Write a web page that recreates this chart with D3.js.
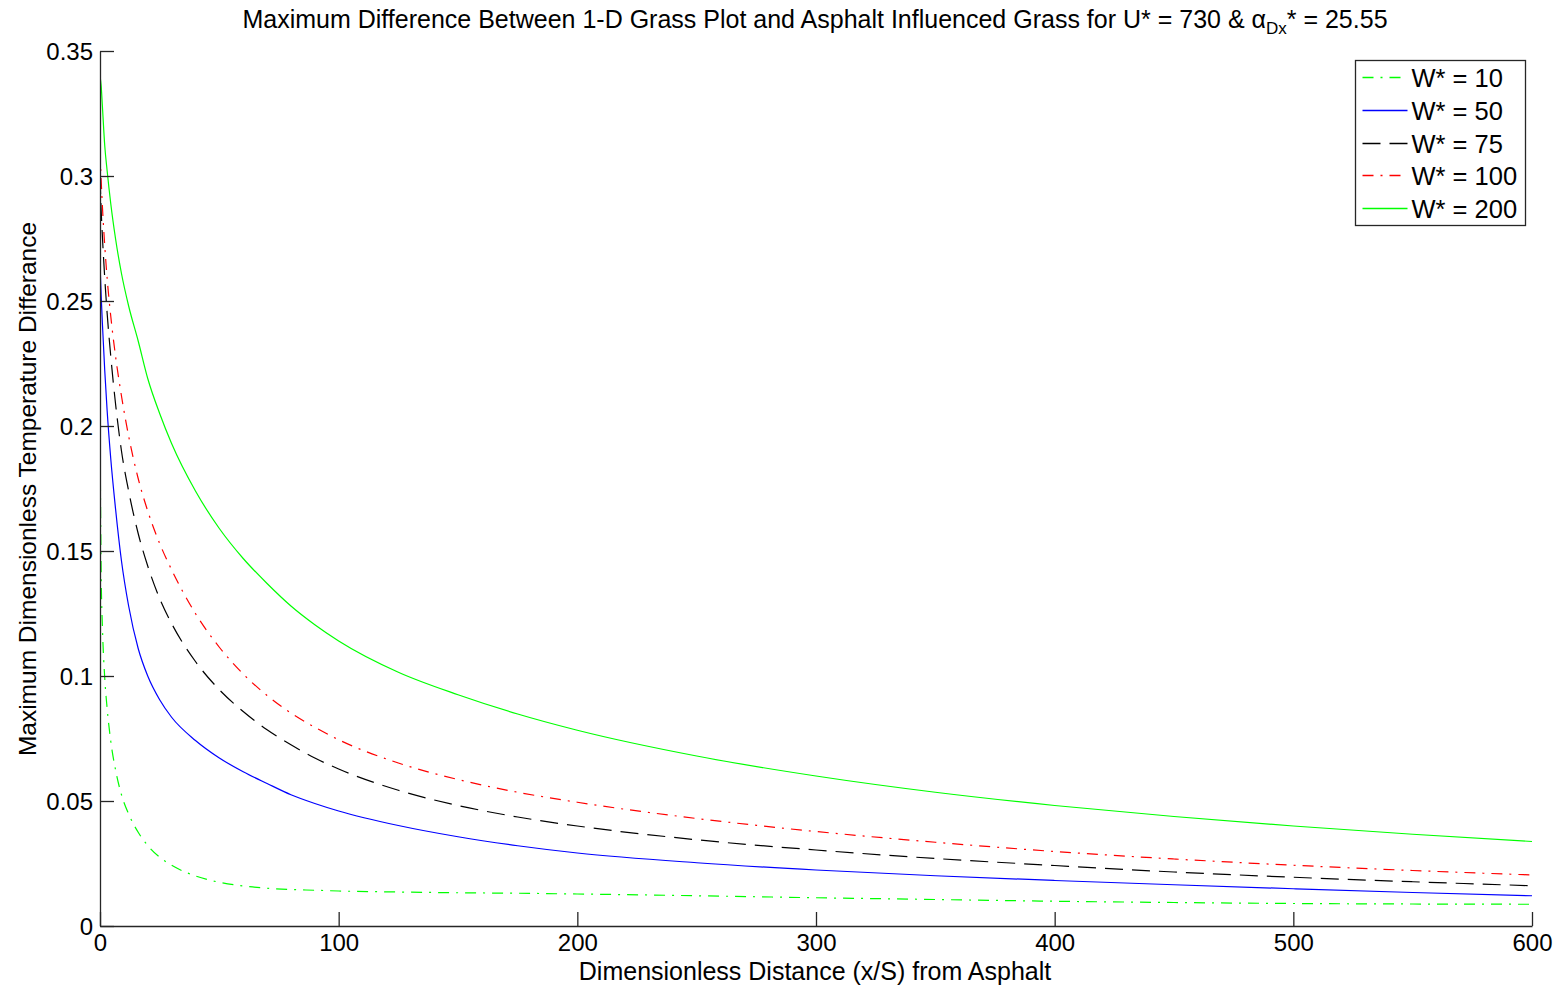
<!DOCTYPE html>
<html>
<head>
<meta charset="utf-8">
<script src="https://d3js.org/d3.v7.min.js"></script>
<style>
  body { margin: 0; background: #fff; }
  text { font-family: "Liberation Sans", Arial, sans-serif; }
</style>
</head>
<body>
<div id="chart"></div>
<script>
// values (x = distance, y = temperature difference)
const xs = [0, 0.5, 1, 2, 3, 4.5, 6.5, 9, 12, 16, 20, 25, 30, 40, 50, 60, 70, 80, 90, 100, 125, 150, 175, 200, 250, 300, 350, 400, 450, 500, 550, 600]

const w10 = [0.2, 0.14, 0.12, 0.099, 0.087, 0.074, 0.0625, 0.0525, 0.0448, 0.0375, 0.0322, 0.0275, 0.0243, 0.02, 0.0175, 0.016, 0.0151, 0.0146, 0.0143, 0.014, 0.0136, 0.0133, 0.0131, 0.0128, 0.0121, 0.0113, 0.0106, 0.0099, 0.0094, 0.009, 0.0088, 0.0087]
const w50 = [0.265, 0.252, 0.241, 0.222, 0.206, 0.187, 0.167, 0.146, 0.128, 0.111, 0.1, 0.0905, 0.0835, 0.0742, 0.0672, 0.0617, 0.057, 0.0525, 0.049, 0.046, 0.0402, 0.0357, 0.0321, 0.0292, 0.0253, 0.0224, 0.0201, 0.0182, 0.0165, 0.0149, 0.0134, 0.0121]
const w75 = [0.3, 0.286, 0.276, 0.259, 0.245, 0.228, 0.209, 0.19, 0.174, 0.157, 0.144, 0.131, 0.121, 0.1058, 0.0945, 0.0858, 0.0785, 0.0725, 0.0672, 0.0628, 0.0543, 0.0482, 0.0436, 0.04, 0.0345, 0.0304, 0.027, 0.0242, 0.0216, 0.0195, 0.0177, 0.0161]
const w100 = [0.31, 0.298, 0.288, 0.272, 0.259, 0.244, 0.228, 0.212, 0.196, 0.179, 0.166, 0.153, 0.1425, 0.125, 0.1115, 0.1008, 0.0922, 0.0852, 0.0795, 0.0745, 0.0652, 0.0586, 0.0535, 0.0495, 0.043, 0.0378, 0.0335, 0.0298, 0.0268, 0.0243, 0.0222, 0.0204]
const w200 = [0.34, 0.336, 0.328, 0.312, 0.302, 0.289, 0.275, 0.261, 0.248, 0.234, 0.219, 0.205, 0.193, 0.174, 0.159, 0.147, 0.137, 0.128, 0.1205, 0.114, 0.1015, 0.0925, 0.0848, 0.0783, 0.068, 0.06, 0.0535, 0.0482, 0.0438, 0.04, 0.0367, 0.0338]

const seriesNames = ['W* = 10', 'W* = 50', 'W* = 75', 'W* = 100', 'W* = 200']
const xTicks = [0, 100, 200, 300, 400, 500, 600]
const yTicks = [0, 0.05, 0.1, 0.15, 0.2, 0.25, 0.3, 0.35]

const series = [
  { name: seriesNames[0], ys: w10, color: '#00ff00', dash: '11,7,2,7' },
  { name: seriesNames[1], ys: w50, color: '#0000ff', dash: null },
  { name: seriesNames[2], ys: w75, color: '#000000', dash: '18,9' },
  { name: seriesNames[3], ys: w100, color: '#ff0000', dash: '11,7,2,7' },
  { name: seriesNames[4], ys: w200, color: '#00ff00', dash: null }
]

var width = 1564, height = 989
var margin = {top: 51, right: 32, bottom: 63, left: 100}
var plotW = width - margin.left - margin.right,
    plotH = height - margin.top - margin.bottom

var svg = d3.select('#chart')
  .append('svg')
    .attr('width', width)
    .attr('height', height)

var g = svg.append('g')
    .attr('transform', 'translate(' + margin.left + ',' + margin.top + ')')

var x = d3.scaleLinear().domain([0, 600]).range([0, plotW])
var y = d3.scaleLinear().domain([0, 0.35]).range([plotH, 0])

g.append('clipPath').attr('id', 'clip')
  .append('rect').attr('width', plotW + 2).attr('height', plotH + 2).attr('y', -2)

// lines
var line = d3.line()
  .x(d => x(d[0]))
  .y(d => y(d[1]))
  .curve(d3.curveMonotoneX)

g.append('g').attr('clip-path', 'url(#clip)')
  .selectAll('path')
  .data(series)
  .enter()
  .append('path')
    .attr('d', s => line(xs.map((v, i) => [v, s.ys[i]])))
    .attr('fill', 'none')
    .attr('stroke', s => s.color)
    .attr('stroke-width', 1.2)
    .attr('stroke-dasharray', s => s.dash)

// axes, ticks pointing inward
var xAxis = g.append('g')
  .attr('transform', 'translate(0,' + plotH + ')')
  .call(d3.axisBottom(x).tickValues(xTicks).tickSize(-14).tickPadding(8).tickSizeOuter(0).tickFormat(d3.format('d')))
var yAxis = g.append('g')
  .call(d3.axisLeft(y).tickValues(yTicks).tickSize(-14).tickPadding(7).tickSizeOuter(0).tickFormat(d => d === 0 ? '0' : d3.format('.2~f')(d)))

;[xAxis, yAxis].forEach(a => {
  a.select('.domain').attr('stroke', '#262626').attr('stroke-width', 1.3)
  a.selectAll('.tick line').attr('stroke', '#262626').attr('stroke-width', 1.3)
  a.selectAll('.tick text').attr('fill', '#000').style('font-size', '24px').style('font-family', '"Liberation Sans", Arial, sans-serif')
})
yAxis.selectAll('.tick text').attr('dy', '0.36em')

// title
var title = svg.append('text')
  .attr('x', 815)
  .attr('y', 28)
  .attr('text-anchor', 'middle')
  .style('font-size', '25px')
title.append('tspan').text('Maximum Difference Between 1-D Grass Plot and Asphalt Influenced Grass for U* = 730 & ')
title.append('tspan').text('\u03b1')
title.append('tspan').attr('dy', 6).style('font-size', '17px').text('Dx')
title.append('tspan').attr('dy', -6).text('* = 25.55')

svg.append('text')
  .attr('x', 815)
  .attr('y', 980)
  .attr('text-anchor', 'middle')
  .style('font-size', '25px')
  .text('Dimensionless Distance (x/S) from Asphalt')

svg.append('text')
  .attr('transform', 'translate(36,489) rotate(-90)')
  .attr('text-anchor', 'middle')
  .style('font-size', '24.5px')
  .text('Maximum Dimensionless Temperature Differance')

// legend
var legend = svg.append('g').attr('transform', 'translate(1355.5,60.5)')
legend.append('rect')
  .attr('width', 170)
  .attr('height', 165)
  .attr('fill', '#fff')
  .attr('stroke', '#262626')
  .attr('stroke-width', 1.3)

var rows = legend.selectAll('g.row')
  .data(series)
  .enter()
  .append('g')
    .attr('class', 'row')
    .attr('transform', (d, i) => 'translate(0,' + Math.round(17 + i * 32.75) + ')')
rows.append('line')
  .attr('x1', 7).attr('x2', 52)
  .attr('stroke', d => d.color)
  .attr('stroke-width', 1.4)
  .attr('stroke-dasharray', d => d.dash)
rows.append('text')
  .attr('x', 56)
  .attr('dy', '0.36em')
  .style('font-size', '25.5px')
  .text(d => d.name)
</script>
</body>
</html>
